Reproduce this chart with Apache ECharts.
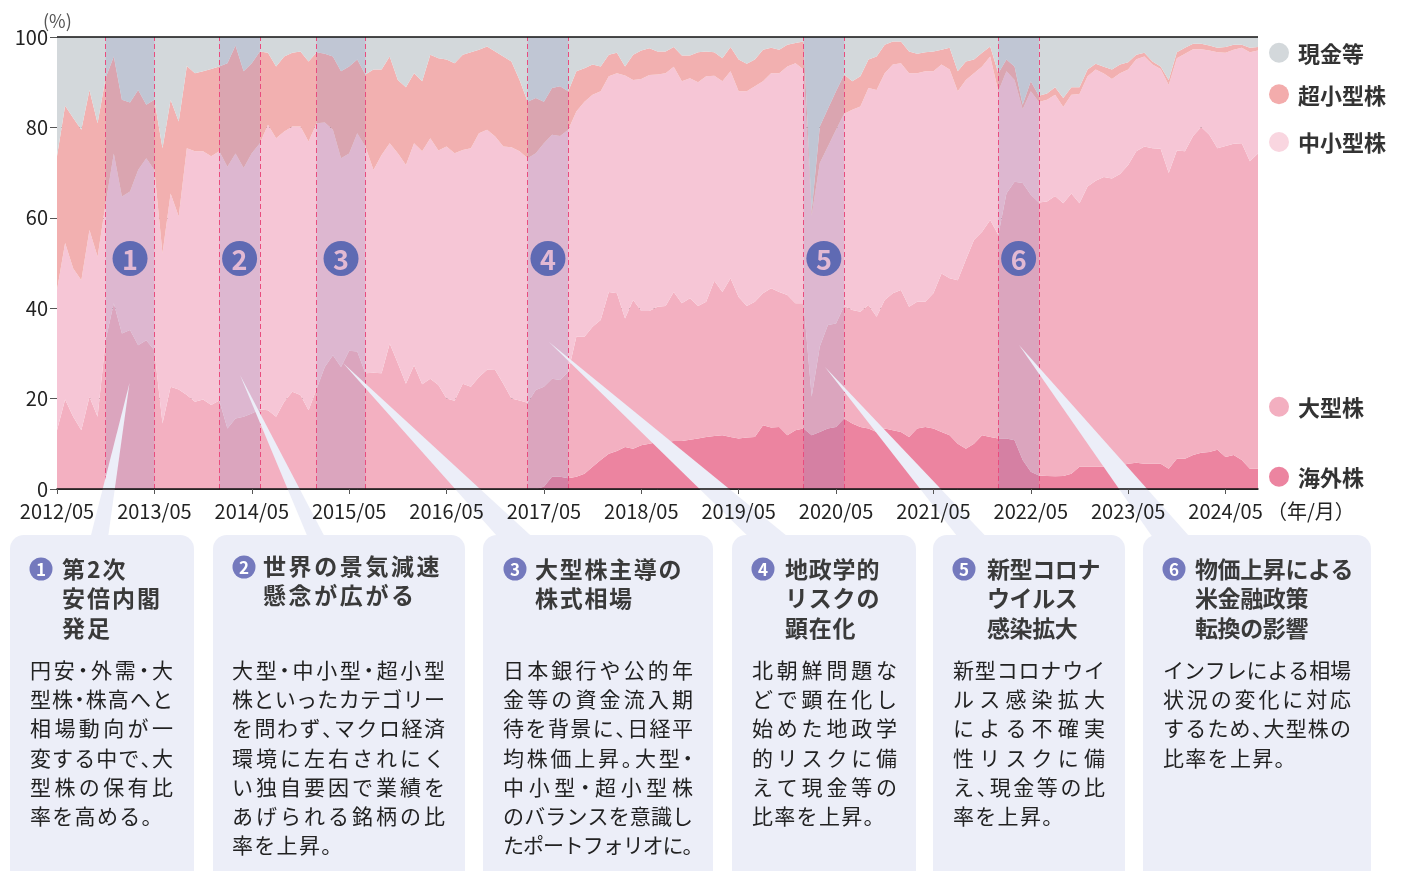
<!DOCTYPE html>
<html><head><meta charset="utf-8">
<script src="https://cdn.jsdelivr.net/npm/echarts@6/dist/echarts.min.js"></script>
<style>html,body{margin:0;padding:0;background:#fff;}#c{width:1406px;height:871px;}</style>
</head><body><div id="c"></div>
<script>
// ---------- categories (monthly, 2012/05 .. 2024/09) ----------
const months = [];
(function(){ let y = 2012, m = 5; while (months.length < 149) { months.push(y + '/' + (m < 10 ? '0' + m : m)); m++; if (m > 12) { m = 1; y++; } } })();

// ---------- series values (%) ----------
const overseas = [
 0,0,0,0,0,0,0,0,0,0, 0,0,0,0,0,0,0,0,0,0, 0,0,0,0,0,0,0,0,0,0,
 0,0,0,0,0,0,0,0,0,0, 0,0,0,0,0,0,0,0,0,0, 0,0,0,0,0,0,0,0,0,0,
 0.5,2.7,2.7,2.4,2.7,3.4,4.9,6.4,7.8,8.4,
 9.3,8.9,9.7,10.0,10.4,10.4,10.6,10.6,10.9,11.2,
 11.5,11.7,11.9,11.5,11.2,11.4,11.5,14.1,13.6,13.7,
 11.9,13.0,13.4,11.9,12.6,13.4,13.7,15.6,14.5,13.7,
 13.4,12.6,13.4,13.0,12.6,11.5,13.4,13.7,13.4,12.6,
 11.9,10.0,8.9,10.0,11.9,11.5,11.2,11.2,10.8,6.4,
 3.8,3.0,2.9,2.8,2.9,3.4,4.9,4.9,4.9,4.9,
 4.9,5.2,5.6,5.8,5.6,5.6,5.6,4.5,6.7,6.7,
 7.5,8.0,8.2,8.7,7.1,7.5,6.4,4.5,4.5];
const largeCap = [
 13.0,19.8,16.0,13.0,20.4,16.0,33.0,41.1,34.4,35.2,
 31.8,32.9,30.7,14.5,22.6,22.0,20.8,19.3,19.8,18.6,
 19.6,13.4,15.6,16.0,16.7,17.6,17.4,16.0,19.3,21.5,
 20.8,17.4,22.2,27.0,29.6,27.0,30.6,30.4,25.6,25.7,
 25.6,32.2,27.8,23.3,27.4,23.2,24.4,23.0,20.0,19.5,
 23.3,22.6,24.8,26.4,26.3,23.3,20.0,19.6,19.1,21.9,
 22.1,21.7,21.4,23.5,31.0,30.3,31.0,31.0,35.8,34.9,
 28.4,32.9,29.7,29.4,29.9,30.1,33.0,30.5,31.3,29.3,
 29.9,34.4,31.7,35.1,31.3,29.1,29.9,29.2,30.8,29.9,
 31.0,28.1,27.7,8.5,18.9,22.9,22.9,24.9,25.1,25.5,
 27.3,25.5,28.4,30.3,31.4,28.8,28.0,27.7,29.9,35.1,
 34.7,36.2,41.8,45.1,45.0,48.0,45.0,54.2,57.2,61.3,
 61.3,60.4,60.7,62.0,60.3,62.0,58.3,62.0,63.3,64.1,
 63.8,64.5,66.1,68.9,70.2,69.8,69.7,65.4,68.2,68.0,
 70.6,72.1,70.2,66.7,68.8,68.9,70.1,68.0,69.7];
const smallMid = [
 31.0,34.6,32.8,33.2,36.9,35.4,30.2,33.1,30.3,30.6,
 38.8,40.3,39.9,37.6,42.8,38.3,54.6,55.4,54.9,55.0,
 55.1,57.9,58.6,55.0,57.6,58.9,63.2,61.6,59.8,58.7,
 59.4,59.5,58.7,54.1,49.9,46.2,43.6,48.3,50.2,44.9,
 48.3,44.3,46.5,48.4,49.1,51.5,53.2,51.9,55.8,54.8,
 51.7,52.8,53.9,53.1,51.7,52.5,55.6,55.1,54.1,52.4,
 53.9,54.0,54.0,53.6,49.8,52.0,51.3,50.6,47.7,48.7,
 53.8,48.7,51.3,52.2,51.4,51.5,49.8,49.1,48.7,49.5,
 49.9,45.3,46.6,45.8,45.5,47.5,47.7,46.9,47.6,48.4,
 50.6,53.1,51.7,40.1,40.6,39.5,42.9,42.5,44.3,45.4,
 48.0,50.2,50.2,50.6,50.2,51.7,50.6,51.0,49.1,46.2,
 46.2,41.8,39.8,36.9,36.6,36.2,31.8,27.0,22.5,16.3,
 22.9,22.2,22.5,22.4,21.3,21.8,24.2,24.4,24.6,22.9,
 22.0,22.3,21.1,20.4,19.9,18.5,17.6,19.5,20.4,21.6,
 19.2,17.2,18.6,21.2,20.6,20.8,21.1,24.1,22.8];
const microCap = [
 29.6,30.4,33.3,33.3,31.0,29.5,27.8,21.5,21.4,19.7,
 17.7,11.8,15.5,23.3,20.7,21.0,18.2,17.3,17.7,19.3,
 18.8,22.9,23.9,21.4,19.9,20.3,15.9,15.9,16.6,16.3,
 16.6,17.7,15.7,15.2,16.2,19.2,19.3,16.3,15.9,22.2,
 18.9,19.2,16.2,17.2,15.5,15.5,18.5,20.4,19.2,19.9,
 21.1,21.2,18.5,18.4,18.8,19.9,19.0,15.8,12.5,12.2,
 9.2,10.3,11.0,8.5,8.9,7.4,6.7,5.5,4.8,4.5,
 2.0,5.6,6.3,5.9,5.1,4.8,4.4,5.7,5.0,6.6,
 5.5,5.2,5.1,5.4,7.0,6.1,5.9,7.0,5.6,5.2,
 4.8,4.5,6.2,1.0,8.1,8.3,8.5,8.7,6.3,6.7,
 6.3,7.4,6.3,5.1,4.8,4.8,4.3,4.2,4.4,3.3,
 4.8,4.4,4.1,3.0,3.0,2.2,4.0,2.6,3.0,1.0,
 2.2,1.4,1.4,1.7,2.0,1.7,1.5,1.5,1.3,1.5,
 2.1,1.9,1.6,1.0,0.8,0.7,0.6,1.1,1.3,1.3,
 1.2,1.2,1.1,1.0,1.3,1.1,0.7,1.0,0.8];
const cash = [
 26.4,15.2,17.9,20.5,11.7,19.1,9.0,4.3,13.9,14.5,
 11.7,15.0,13.9,24.6,13.9,18.7,6.4,8.0,7.6,7.1,
 6.5,5.8,1.9,7.6,5.8,3.2,3.5,6.5,4.3,3.5,
 3.2,5.4,3.4,3.7,4.3,7.6,6.5,5.0,8.3,7.2,
 7.2,4.3,9.5,11.1,8.0,9.8,3.9,4.7,5.0,5.8,
 3.9,3.4,2.8,2.1,3.2,4.3,5.4,9.5,14.3,13.5,
 14.3,11.3,10.9,12.0,7.6,6.9,6.1,6.5,3.9,3.5,
 6.5,3.9,3.0,2.5,3.2,3.2,2.2,4.1,4.1,3.4,
 3.2,3.4,4.7,2.2,5.0,5.9,5.0,2.8,2.4,2.8,
 1.7,1.3,1.0,38.5,19.8,15.9,12.0,8.3,9.8,8.7,
 5.0,4.3,1.7,1.0,1.0,3.2,3.7,3.4,3.2,2.8,
 2.4,7.6,5.4,5.0,3.5,2.1,8.0,5.0,6.5,15.0,
 9.8,13.0,12.5,11.1,13.5,11.1,11.1,7.2,5.9,6.6,
 7.2,6.1,5.6,3.9,3.5,5.4,6.5,9.5,3.4,2.4,
 1.5,1.5,1.9,2.4,2.2,1.7,1.7,2.4,2.2];

const seriesNames = ['海外株', '大型株', '中小型株', '超小型株', '現金等'];
const seriesValues = [overseas, largeCap, smallMid, microCap, cash];
const yTickValues = [0, 20, 40, 60, 80, 100];

// highlighted periods (start month, end month)
const periods = [['2012/11','2013/05'], ['2014/01','2014/06'], ['2015/01','2015/07'],
                 ['2017/03','2017/08'], ['2020/01','2020/06'], ['2022/01','2022/06']];
const periodLabels = ['1','2','3','4','5','6'];

// callout box texts
const boxTitles = [
  ['第2次', '安倍内閣', '発足'],
  ['世界の景気減速', '懸念が広がる'],
  ['大型株主導の', '株式相場'],
  ['地政学的', 'リスクの', '顕在化'],
  ['新型コロナ', 'ウイルス', '感染拡大'],
  ['物価上昇による', '米金融政策', '転換の影響']
];
const boxBodies = [
  ['円安・外需・大', '型株・株高へと', '相場動向が一', '変する中で、大', '型株の保有比', '率を高める。'],
  ['大型・中小型・超小型', '株といったカテゴリー', 'を問わず、マクロ経済', '環境に左右されにく', 'い独自要因で業績を', 'あげられる銘柄の比', '率を上昇。'],
  ['日本銀行や公的年', '金等の資金流入期', '待を背景に、日経平', '均株価上昇。大型・', '中小型・超小型株', 'のバランスを意識し', 'たポートフォリオに。'],
  ['北朝鮮問題な', 'どで顕在化し', '始めた地政学', '的リスクに備', 'えて現金等の', '比率を上昇。'],
  ['新型コロナウイ', 'ルス感染拡大', 'による不確実', '性リスクに備', 'え、現金等の比', '率を上昇。'],
  ['インフレによる相場', '状況の変化に対応', 'するため、大型株の', '比率を上昇。']
];

// ---------- styling / layout ----------
const FONT = '"Noto Sans CJK JP", "Noto Sans", sans-serif';
const COLORS = ['#ec84a0', '#f3b0c1', '#f6c6d6', '#f2b0b0', '#d3d8db'];
const LEGEND_COLORS = ['#ec84a0', '#f3afc0', '#f9d6e0', '#f3acac', '#d3d8db'];
const BOX = '#eceef8';

const chart = echarts.init(document.getElementById('c'), null, {renderer: 'canvas'});

const series = seriesNames.map((n, i) => ({
  name: n, type: 'line', stack: 'total', data: seriesValues[i],
  symbol: 'none', showSymbol: false, silent: true,
  lineStyle: {width: 0, opacity: 0},
  areaStyle: {color: COLORS[i], opacity: 1},
  emphasis: {disabled: true}, z: 2
}));
series.push({
  name: 'periods', type: 'line', data: months.map(() => null), symbol: 'none', silent: true, z: 5,
  markArea: {silent: true, z: 4, itemStyle: {color: 'rgba(100,110,178,0.17)', borderWidth: 0},
    data: periods.map(p => [{xAxis: p[0], yAxis: 0}, {xAxis: p[1], yAxis: 100}])},
  markLine: {silent: true, z: 6, symbol: 'none', animation: false, label: {show: false},
    lineStyle: {type: [5, 3], color: '#e94c7e', width: 1},
    data: periods.flatMap(p => [{xAxis: p[0]}, {xAxis: p[1]}])
      .concat([{yAxis: 100, lineStyle: {type: 'solid', color: '#111', width: 1.5}}])}
});

chart.setOption({
  animation: false,
  backgroundColor: '#ffffff',
  grid: {left: 57, right: 148, top: 37, bottom: 382, containLabel: false},
  xAxis: {
    type: 'category', data: months, boundaryGap: false, z: 20,
    axisLine: {lineStyle: {color: '#111', width: 1.5}},
    axisTick: {show: true, interval: 11, length: 5, lineStyle: {color: '#555'}},
    axisLabel: {interval: 11, color: '#222', fontSize: 20, fontFamily: FONT, margin: 12}
  },
  yAxis: {
    type: 'value', min: yTickValues[0], max: yTickValues[yTickValues.length - 1], interval: 20,
    axisLine: {show: false},
    axisTick: {show: true, length: 7, lineStyle: {color: '#555'}},
    axisLabel: {color: '#222', fontSize: 20, fontFamily: FONT, margin: 9},
    splitLine: {lineStyle: {color: '#666', width: 1}}
  },
  series: series
});

// ---------- annotations ----------
const mctx = document.createElement('canvas').getContext('2d');
function charWidth(ch, fs, bold) {
  if ('、。・'.indexOf(ch) >= 0) return fs * 0.5;
  if (/[\u3040-\u30ff\u3400-\u9fff\uff01-\uff60\u2015-\u2026]/.test(ch)) return fs;
  mctx.font = (bold ? 'bold ' : '') + fs + 'px ' + FONT;
  return mctx.measureText(ch).width;
}
const G = [];
function textLine(text, x0, y, fs, bold, color, right, extra) {
  const chars = Array.from(text);
  const ws = chars.map(c => charWidth(c, fs, bold));
  const W = ws.reduce((a, b) => a + b, 0);
  let ex = extra || 0;
  if (right != null && chars.length > 1) ex = (right - x0 - W) / (chars.length - 1);
  let x = x0;
  chars.forEach((c, i) => {
    const dx = c === '・' ? -fs * 0.25 : 0;
    G.push({type: 'text', x: x + dx, y: y, z: 12, silent: true,
      style: {text: c, fontSize: fs, fontFamily: FONT, fontWeight: bold ? 'bold' : 'normal',
              fill: color, align: 'left', verticalAlign: 'middle'}});
    x += ws[i] + ex;
  });
}

// callout wedges (tip in chart -> box top)
const wedges = [
  [[129.5, 383], [88.5, 545], [107, 545]],
  [[240, 375], [311, 545], [329, 545]],
  [[343, 363], [505, 545], [541, 545]],
  [[549, 342], [757, 545], [798, 545]],
  [[825, 367], [964, 545], [994, 545]],
  [[1019, 345], [1158, 545], [1197, 545]]
];
wedges.forEach(w => G.push({type: 'polygon', shape: {points: w}, style: {fill: BOX}, z: 10, silent: true}));

// boxes
const boxes = [[10, 184], [213, 252], [483, 230], [732, 184], [933, 192], [1143, 228]];
boxes.forEach(b => G.push({type: 'rect', shape: {x: b[0], y: 535, width: b[1], height: 350, r: 14},
  style: {fill: BOX}, z: 10, silent: true}));

// box titles
const iconPos = [[41, 569], [244, 567], [515, 569], [763, 569], [964, 569], [1174, 569]];
const titleX = [62, 263, 535, 785, 987, 1195];
const titleY0 = [569, 566, 569, 569, 569, 569];
const titleStep = [29.5, 29, 29.5, 29.5, 29.5, 29.5];
const titlePitch = [25, 25.6, 24.7, 23.8, 22.6, 22.6];
boxTitles.forEach((lines, i) => {
  G.push({type: 'circle', shape: {cx: iconPos[i][0], cy: iconPos[i][1], r: 11.5}, style: {fill: '#7479bd'}, z: 11, silent: true});
  G.push({type: 'text', x: iconPos[i][0], y: iconPos[i][1] + 1, z: 12, silent: true,
    style: {text: periodLabels[i], fontSize: 17, fontWeight: 'bold', fontFamily: FONT, fill: '#fff', align: 'center', verticalAlign: 'middle'}});
  lines.forEach((t, k) => textLine(t, titleX[i], titleY0[i] + k * titleStep[i], 23, true, '#3a3a3a', null, titlePitch[i] - 23));
});

// box bodies
const bodyX = [30, 232, 503, 752, 953, 1163];
const bodyR = [173, 445, 693, 897, 1105, 1351];
boxBodies.forEach((lines, i) => {
  lines.forEach((t, k) => {
    const last = k === lines.length - 1;
    const justify = !last || i === 2;
    textLine(t, bodyX[i], 670 + k * 29.2, 21, false, '#222', justify ? bodyR[i] : null, 1.3);
  });
});

// legend
const legendY = [476.7, 406.7, 142, 94.3, 52.7];
seriesNames.forEach((n, i) => {
  G.push({type: 'circle', shape: {cx: 1279, cy: legendY[i], r: 10}, style: {fill: LEGEND_COLORS[i]}, z: 11, silent: true});
  G.push({type: 'text', x: 1298, y: legendY[i] + 1, z: 12, silent: true,
    style: {text: n, fontSize: 22, fontWeight: 'bold', fontFamily: FONT, fill: '#333', align: 'left', verticalAlign: 'middle'}});
});

// axis unit texts
G.push({type: 'text', x: 43, y: 21, z: 12, silent: true,
  style: {text: '(%)', fontSize: 18, fontFamily: FONT, fill: '#555', align: 'left', verticalAlign: 'middle'}});
G.push({type: 'text', x: 1267, y: 511, z: 12, silent: true,
  style: {text: '（年/月）', fontSize: 20, fontFamily: FONT, fill: '#222', align: 'left', verticalAlign: 'middle'}});

// numbered circles at period centres
periods.forEach((p, i) => {
  const x0 = chart.convertToPixel({xAxisIndex: 0}, p[0]);
  const x1 = chart.convertToPixel({xAxisIndex: 0}, p[1]);
  const y = chart.convertToPixel({yAxisIndex: 0}, 51);
  const cx = (x0 + x1) / 2;
  G.push({type: 'circle', shape: {cx: cx, cy: y, r: 17.5}, style: {fill: '#5f6ab3'}, z: 11, silent: true});
  G.push({type: 'text', x: cx, y: y + 1, z: 12, silent: true,
    style: {text: periodLabels[i], fontSize: 27, fontWeight: 'bold', fontFamily: FONT, fill: '#e2b9d3', align: 'center', verticalAlign: 'middle'}});
});

chart.setOption({graphic: {elements: G}});
</script>
</body></html>
